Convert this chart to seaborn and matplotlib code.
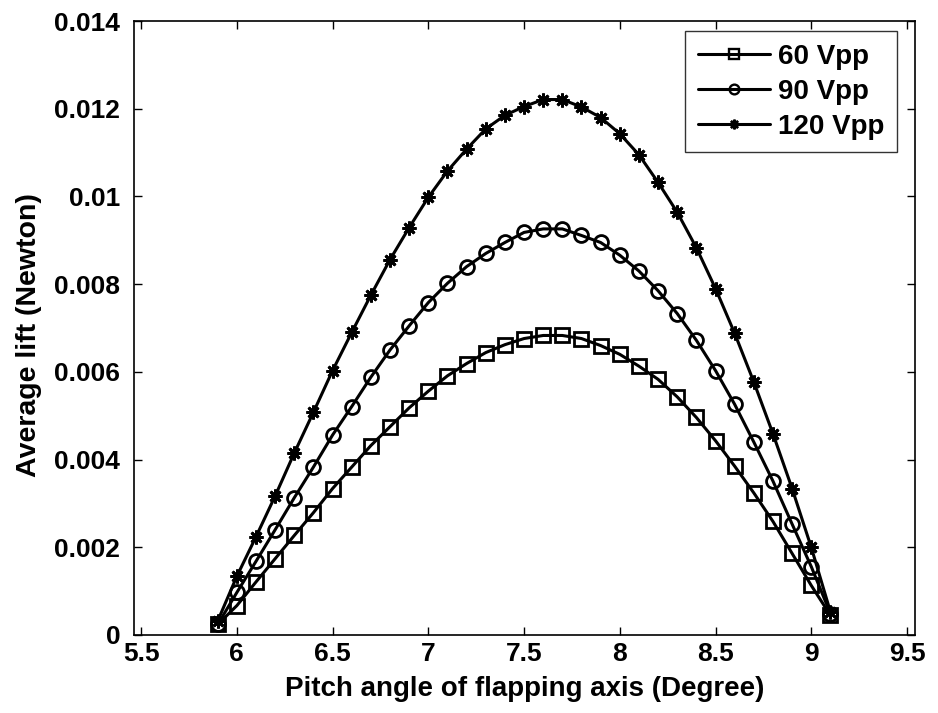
import numpy as np
import pandas as pd
import matplotlib
matplotlib.use("Agg")
import matplotlib.pyplot as plt
import seaborn as sns
from matplotlib.lines import Line2D

pitch = [5.9, 6.0, 6.1, 6.2, 6.3, 6.4, 6.5, 6.6, 6.7, 6.8, 6.9, 7.0, 7.1, 7.2, 7.3, 7.4, 7.5,
         7.6, 7.7, 7.8, 7.9, 8.0, 8.1, 8.2, 8.3, 8.4, 8.5, 8.6, 8.7, 8.8, 8.9, 9.0, 9.1]

lift_60 = [0.00024, 0.00067, 0.00121, 0.00174, 0.00227, 0.00279, 0.00334, 0.00383, 0.00432,
           0.00475, 0.00518, 0.00556, 0.00591, 0.00619, 0.00644, 0.00662, 0.00676,
           0.00683, 0.00683, 0.00676, 0.00660, 0.00640, 0.00613, 0.00583, 0.00543,
           0.00496, 0.00443, 0.00385, 0.00324, 0.00259, 0.00186, 0.00113, 0.00045]

lift_90 = [0.00024, 0.00097, 0.00168, 0.00240, 0.00313, 0.00383, 0.00456, 0.00521, 0.00588,
           0.00650, 0.00705, 0.00758, 0.00802, 0.00840, 0.00870, 0.00895, 0.00918,
           0.00926, 0.00926, 0.00911, 0.00895, 0.00866, 0.00830, 0.00785, 0.00733,
           0.00672, 0.00603, 0.00526, 0.00440, 0.00351, 0.00253, 0.00156, 0.00049]

lift_120 = [0.00032, 0.00134, 0.00224, 0.00317, 0.00415, 0.00508, 0.00603, 0.00690, 0.00775,
            0.00856, 0.00929, 0.00998, 0.01058, 0.01108, 0.01154, 0.01185, 0.01205,
            0.01221, 0.01221, 0.01204, 0.01180, 0.01143, 0.01095, 0.01032, 0.00964,
            0.00883, 0.00790, 0.00688, 0.00577, 0.00459, 0.00334, 0.00200, 0.00053]

series_names = ["60 Vpp", "90 Vpp", "120 Vpp"]
x_ticks = [5.5, 6, 6.5, 7, 7.5, 8, 8.5, 9, 9.5]
x_tick_labels = ["5.5", "6", "6.5", "7", "7.5", "8", "8.5", "9", "9.5"]
y_ticks = [0, 0.002, 0.004, 0.006, 0.008, 0.01, 0.012, 0.014]
y_tick_labels = ["0", "0.002", "0.004", "0.006", "0.008", "0.01", "0.012", "0.014"]

sns.set_theme(style="white")
plt.rcParams['font.family'] = ['Liberation Sans', 'DejaVu Sans']
plt.rcParams['font.weight'] = 'bold'
plt.rcParams['text.color'] = 'black'
plt.rcParams['axes.labelcolor'] = 'black'
plt.rcParams['xtick.color'] = 'black'
plt.rcParams['ytick.color'] = 'black'

fig = plt.figure(figsize=(9.38, 7.13), dpi=100)
ax = fig.add_axes([0.1429, 0.1094, 0.8326, 0.8611])

markers = ['s', 'o', (8, 2, 0)]
msizes = [10, 10, 10]
for name, vals, m, ms in zip(series_names, [lift_60, lift_90, lift_120], markers, msizes):
    df = pd.DataFrame({"pitch": pitch, "lift": vals})
    sns.lineplot(data=df, x="pitch", y="lift", ax=ax, color="black", linewidth=2.2,
                 marker=m, markersize=ms, markerfacecolor="none",
                 markeredgecolor="black", markeredgewidth=2.0)

ax.set_xlim(5.463, 9.542)
ax.set_ylim(0, 0.014)
ax.set_xticks(x_ticks)
ax.set_xticklabels(x_tick_labels, fontsize=19, fontweight='bold', color='black')
ax.set_yticks(y_ticks)
ax.set_yticklabels(y_tick_labels, fontsize=19, fontweight='bold', color='black')
ax.tick_params(axis='y', pad=10)
ax.tick_params(axis='x', pad=5)
ax.tick_params(direction='in', length=6, width=1, top=True, right=True,
               bottom=True, left=True, colors='black')
for s in ax.spines.values():
    s.set_color('black')
    s.set_linewidth(1.2)

ax.set_xlabel("Pitch angle of flapping axis (Degree)", fontsize=20, fontweight='bold',
              color='black', labelpad=7)
ax.set_ylabel("Average lift (Newton)", fontsize=20.5, fontweight='bold', color='black')
ax.yaxis.set_label_coords(-0.118, 0.489)

handles = [Line2D([0], [0], color='black', linewidth=2.2, marker=m, markersize=7,
                  markerfacecolor='none', markeredgecolor='black', markeredgewidth=1.7)
           for m in markers]
leg = ax.legend(handles, series_names, loc='upper right', bbox_to_anchor=(0.977, 0.9837),
                frameon=True, fancybox=False, edgecolor='black', handlelength=2.6,
                borderaxespad=0, borderpad=0.45, labelspacing=0.33, handletextpad=0.3,
                prop={'weight': 'bold', 'size': 20})
leg.get_frame().set_linewidth(1.0)
for t in leg.get_texts():
    t.set_color('black')

fig.savefig("out.png", dpi=100)
